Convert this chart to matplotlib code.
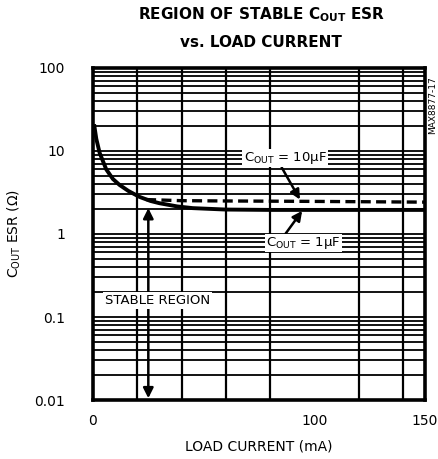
import matplotlib
matplotlib.use('Agg')
import numpy as np
from matplotlib import pyplot as plt
from matplotlib.ticker import FixedLocator, LogLocator, NullFormatter, FixedFormatter

############### data ###################
# Cout = 1uF boundary (solid)
load_1uF = [0.5, 1.5, 3, 6, 9, 12, 16, 21, 26, 30, 38, 45, 60, 80, 100, 150]
esr_1uF = [21, 14, 9.5, 6.0, 4.6, 3.9, 3.3, 2.8, 2.5, 2.35, 2.15, 2.05, 1.97, 1.95, 1.95, 1.95]
# Cout = 10uF boundary (dashed)
load_10uF = [24, 40, 60, 100, 150]
esr_10uF = [2.6, 2.52, 2.5, 2.47, 2.42]

x_ticks = [0, 100, 150]
x_ticklabels = ['0', '100', '150']
y_ticks = [0.01, 0.1, 1, 10, 100]
y_ticklabels = ['0.01', '0.1', '1', '10', '100']

plt.rcParams['font.family'] = ['Liberation Sans Narrow', 'DejaVu Sans']

############### plot ###################
fig = plt.figure(figsize=(4.39, 4.59), dpi=100)
ax = fig.add_axes([0.2118, 0.1285, 0.7563, 0.7234])

ax.set_xlim(0, 150)
ax.set_yscale('log')
ax.set_ylim(0.01, 100)

ax.xaxis.set_major_locator(FixedLocator(x_ticks))
ax.xaxis.set_major_formatter(FixedFormatter(x_ticklabels))
ax.xaxis.set_minor_locator(FixedLocator(np.arange(0, 151, 20)))
ax.yaxis.set_major_locator(FixedLocator(y_ticks))
ax.yaxis.set_major_formatter(FixedFormatter(y_ticklabels))
ax.yaxis.set_minor_locator(LogLocator(base=10, subs=np.arange(2, 10), numticks=20))
ax.yaxis.set_minor_formatter(NullFormatter())

ax.grid(True, which='both', axis='y', color='black', lw=1.3)
ax.grid(True, which='minor', axis='x', color='black', lw=1.6)
ax.tick_params(which='both', length=0)
ax.tick_params(axis='y', pad=20, labelsize=10)
ax.tick_params(axis='x', pad=10, labelsize=10)
for s in ax.spines.values():
    s.set_linewidth(2.6)
ax.set_axisbelow(True)

ax.plot(load_1uF, esr_1uF, color='black', lw=2.8, solid_capstyle='butt', zorder=4)
ax.plot(load_10uF, esr_10uF, color='black', lw=2.4, ls=(0, (3, 1.6)), zorder=4)

box = dict(boxstyle='square,pad=0.1', fc='white', ec='none')
arrow = dict(arrowstyle='-|>,head_length=0.6,head_width=0.3', color='black', lw=1.8,
             shrinkA=0, shrinkB=0)

ax.annotate('C$_{\\mathregular{OUT}}$ = 10\u00b5F', xy=(93.5, 2.6), xytext=(86.8, 8.2),
            ha='center', va='center', fontsize=9.5, bbox=box, zorder=6,
            arrowprops=dict(arrow, relpos=(0.45, 0.0)))
ax.annotate('C$_{\\mathregular{OUT}}$ = 1\u00b5F', xy=(94.5, 1.9), xytext=(95, 0.78),
            ha='center', va='center', fontsize=9.5, bbox=box, zorder=6,
            arrowprops=dict(arrow, relpos=(0.25, 1.0)))

# stable region double arrow
ax.annotate('', xy=(25, 2.05), xytext=(25, 0.16),
            arrowprops=dict(arrow), zorder=5)
ax.annotate('', xy=(25, 0.0105), xytext=(25, 0.16),
            arrowprops=dict(arrow), zorder=5)
ax.text(29, 0.16, 'STABLE REGION', ha='center', va='center', fontsize=9.5,
        bbox=dict(boxstyle='square,pad=0.15', fc='white', ec='none'), zorder=7)

ax.set_xlabel('LOAD CURRENT (mA)', fontsize=10, labelpad=8)
ax.set_ylabel('C$_{\\mathregular{OUT}}$ ESR (\u03a9)', fontsize=10, labelpad=8)

fig.text(0.595, 0.967, 'REGION OF STABLE C$_{\\mathregular{OUT}}$ ESR', ha='center', va='center',
         fontsize=11, fontweight='bold')
fig.text(0.595, 0.908, 'vs. LOAD CURRENT', ha='center', va='center',
         fontsize=11, fontweight='bold')
fig.text(0.986, 0.77, 'MAX8877-17', rotation=90, ha='center', va='center', fontsize=6.5)

fig.savefig('out.png', dpi=100)
